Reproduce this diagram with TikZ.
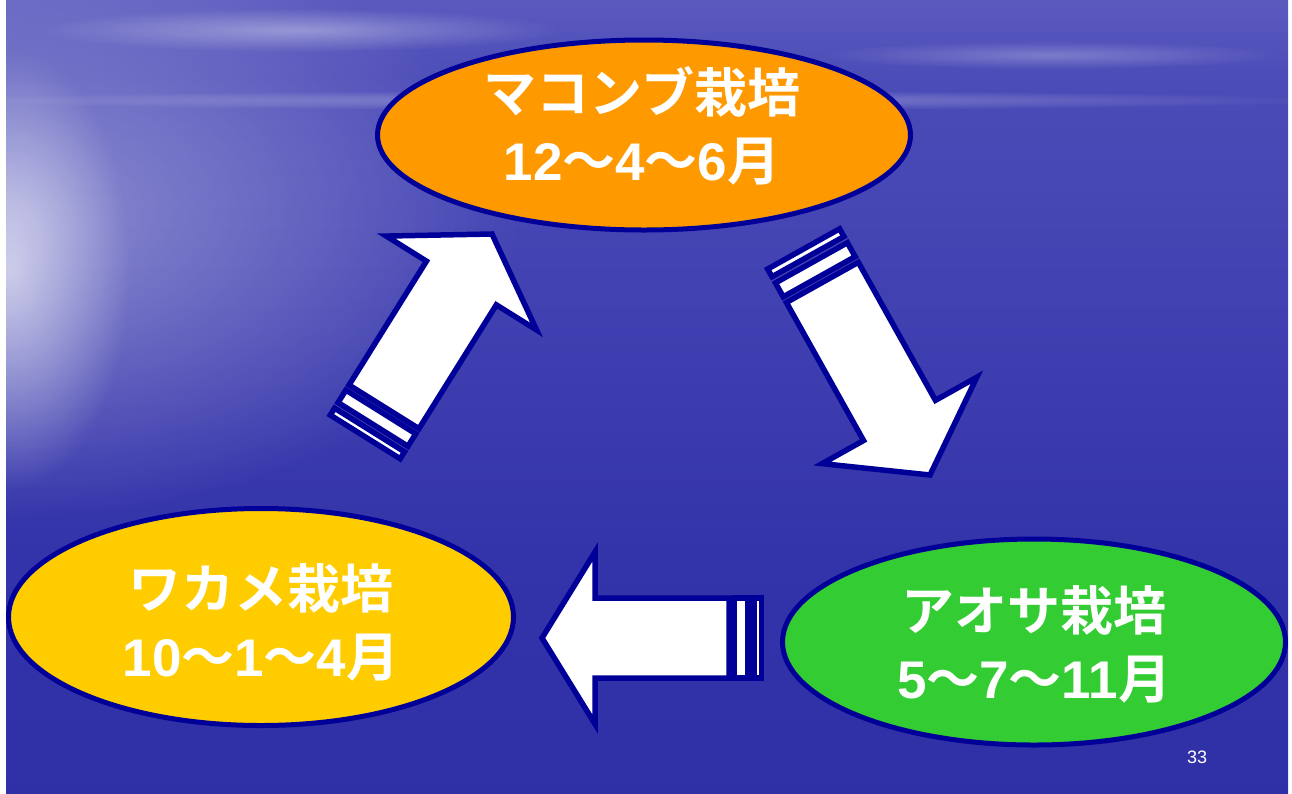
\documentclass[tikz,border=0pt]{standalone}
\usepackage{fontspec}
\setmainfont{Liberation Sans}
\newfontfamily\cjk{Noto Sans CJK JP}[BoldFont={Noto Sans CJK JP Bold}]
\usetikzlibrary{shapes.geometric,fadings}
\tikzfading[name=glow, inner color=transparent!0, outer color=transparent!100]
\definecolor{navy}{RGB}{0,0,153}
\definecolor{kombu}{RGB}{255,153,0}
\definecolor{wakame}{RGB}{255,204,0}
\definecolor{aosa}{RGB}{51,204,51}
\definecolor{skyT}{RGB}{98,98,196}
\definecolor{skyH}{RGB}{165,165,225}
\definecolor{seaA}{RGB}{118,118,205}
\definecolor{seaB}{RGB}{76,76,184}
\definecolor{seaC}{RGB}{52,52,170}
\definecolor{seaD}{RGB}{42,42,160}
\pgfdeclareverticalshading{ocean}{100bp}{color(0bp)=(seaD); color(40bp)=(seaC); color(70bp)=(seaB); color(85bp)=(seaA); color(87.4bp)=(skyH); color(90bp)=(skyT!85!skyH); color(100bp)=(skyT)}
\newcommand{\wv}{{\cjk\bfseries ～}}
\newcommand{\mo}{{\cjk\bfseries 月}}
\newcommand{\seaarrow}[6]{%
\begin{scope}[shift={(#2,#3)}, rotate=#4, xscale=#5, yscale=#6]
\coordinate (#1) at (0,0);
\draw[arrowbody] (0,0) -- (53,86) -- (53,40) -- (187,40) -- (187,-40) -- (53,-40) -- (53,-86) -- cycle;
\draw[arrowbody] (192.5,-40) rectangle (206,40);
\draw[arrowbody] (212,-40) rectangle (219.5,40);
\end{scope}}
\tikzset{
  arrowbody/.style={draw=navy, fill=white, line width=5.5pt, line join=miter},
  crop/.style={ellipse, draw=navy, line width=5pt, inner sep=0pt},
  croptext/.style={text=white, align=center, inner sep=0pt,
    font=\fontsize{53}{68}\selectfont\bfseries},
}
\begin{document}
\begin{tikzpicture}[x=1pt,y=-1pt]
\useasboundingbox (0,0) rectangle (1292,793);
\fill[white] (0,0) rectangle (1292,793);
\shade[shading=ocean] (6,0) rectangle (1288,793);
\begin{scope}
\clip (6,0) rectangle (1288,793);
\fill[white, path fading=glow, fill opacity=0.4] (0,220) ellipse [x radius=520, y radius=300];
\fill[white, path fading=glow, fill opacity=0.6] (10,270) ellipse [x radius=120, y radius=220];
\fill[white, path fading=glow, fill opacity=0.35] (300,30) ellipse [x radius=260, y radius=22];
\fill[white, path fading=glow, fill opacity=0.25] (1050,55) ellipse [x radius=230, y radius=14];
\fill[white, path fading=glow, fill opacity=0.3] (640,100) ellipse [x radius=700, y radius=10];
\end{scope}
% ellipses
\node[crop, fill=kombu, minimum width=533, minimum height=190] (kombu) at (644,135) {};
\node[croptext] (kombutxt) at (642,126) {{\cjk マコンブ栽培}\\12\wv4\wv6\mo};
\node[crop, fill=wakame, minimum width=505, minimum height=217] (wakame) at (261,617) {};
\node[croptext] (wakametxt) at (261,622) {{\cjk ワカメ栽培}\\10\wv1\wv4\mo};
\node[crop, fill=aosa, minimum width=503, minimum height=206] (aosa) at (1034,642) {};
\node[croptext] (aosatxt) at (1034,644) {{\cjk アオサ栽培}\\5\wv7\wv11\mo};
% block arrows
\seaarrow{tipup}{492}{234}{-122}{1.09}{1.03}
\seaarrow{tipdown}{930}{475}{119.2}{1.18}{1.03}
\seaarrow{tipleft}{542}{638}{0}{1}{1}
% page number
\node[text=white, font=\fontsize{18}{20}\selectfont] (pg) at (1197,757) {33};
\end{tikzpicture}
\end{document}
